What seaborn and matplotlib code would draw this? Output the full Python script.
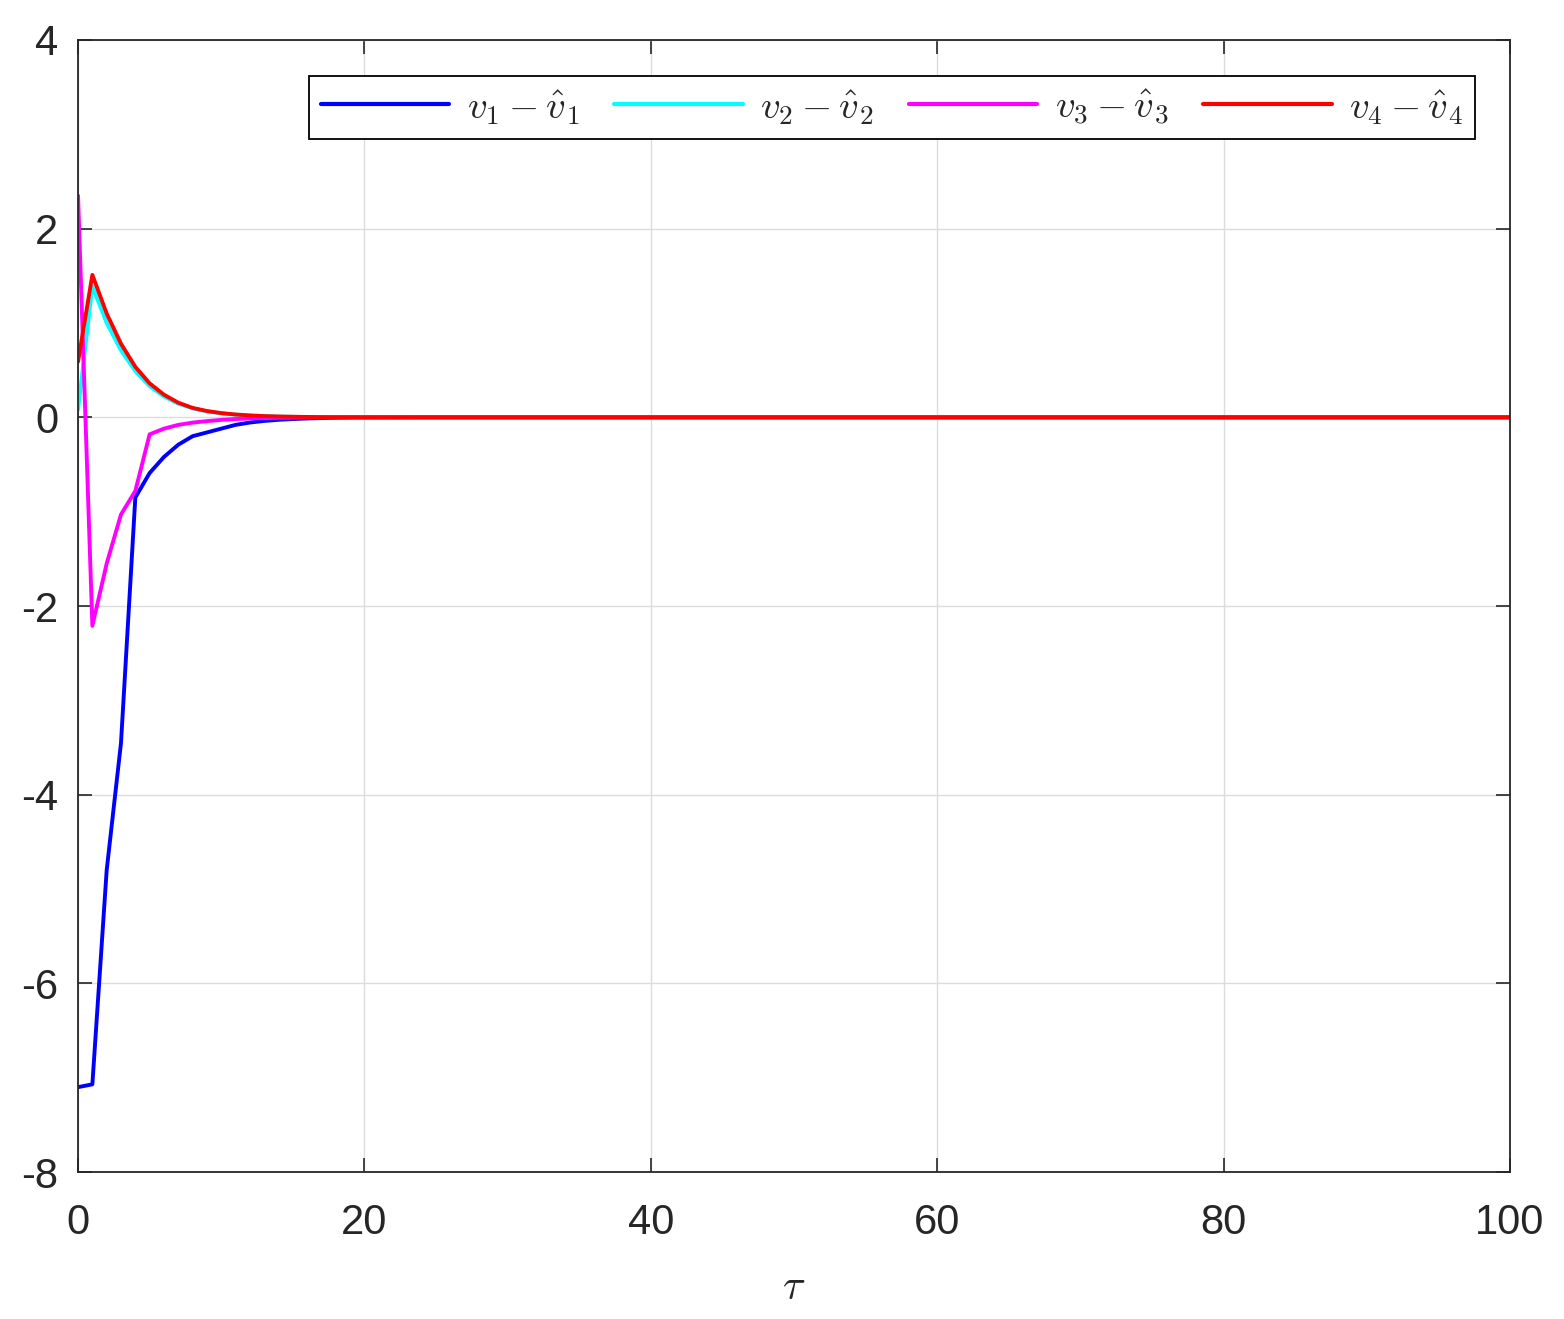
import numpy as np
import pandas as pd
import matplotlib
matplotlib.use('Agg')
import matplotlib.pyplot as plt
import seaborn as sns

# tau samples (step 1 in the transient, flat zero afterwards)
tau = [0, 1, 2, 3, 4, 5, 6, 7, 8, 9, 10, 11, 12, 13, 14, 15, 16, 17, 18, 19, 20, 22, 24, 100]

# estimation errors
err_v1 = [-7.10, -7.07, -4.80, -3.45, -0.85, -0.59, -0.42, -0.29, -0.20, -0.16,
          -0.12, -0.08, -0.055, -0.038, -0.026, -0.018, -0.012, -0.008, -0.005, -0.003,
          -0.002, -0.001, 0.0, 0.0]
err_v2 = [0.08, 1.39, 1.00, 0.71, 0.49, 0.33, 0.22, 0.145, 0.095, 0.063,
          0.042, 0.028, 0.018, 0.012, 0.008, 0.005, 0.003, 0.002, 0.001, 0.001,
          0.0, 0.0, 0.0, 0.0]
err_v3 = [2.35, -2.21, -1.55, -1.03, -0.78, -0.18, -0.12, -0.08, -0.056, -0.04,
          -0.027, -0.018, -0.012, -0.008, -0.005, -0.003, -0.002, -0.001, -0.001, 0.0,
          0.0, 0.0, 0.0, 0.0]
err_v4 = [0.59, 1.51, 1.10, 0.78, 0.535, 0.36, 0.24, 0.155, 0.10, 0.067,
          0.045, 0.03, 0.02, 0.013, 0.009, 0.006, 0.004, 0.002, 0.001, 0.001,
          0.0, 0.0, 0.0, 0.0]

labels = [r'$v_1-\hat{v}_1$', r'$v_2-\hat{v}_2$', r'$v_3-\hat{v}_3$', r'$v_4-\hat{v}_4$']
colors = ['#0000ff', '#00ffff', '#ff00ff', '#ff0000']

df = pd.DataFrame({
    'tau': tau * 4,
    'err': err_v1 + err_v2 + err_v3 + err_v4,
    'serie': sum([[l] * len(tau) for l in labels], []),
})

sns.set_style('ticks')
plt.rcParams['font.family'] = ['Liberation Sans', 'DejaVu Sans']
plt.rcParams['mathtext.fontset'] = 'cm'
plt.rcParams['axes.unicode_minus'] = False

fig = plt.figure(figsize=(15.64, 13.19), dpi=100)
ax = fig.add_axes([0.0499, 0.1114, 0.9156, 0.8583])

sns.lineplot(data=df, x='tau', y='err', hue='serie', palette=colors,
             hue_order=labels, linewidth=2.8, ax=ax, legend=True)

ax.set_xlim(0, 100)
ax.set_ylim(-8, 4)
ax.set_xticks([0, 20, 40, 60, 80, 100])
ax.set_yticks([-8, -6, -4, -2, 0, 2, 4])
ax.grid(True, color='#dcdcdc', linewidth=1.0)
ax.set_axisbelow(True)
ax.tick_params(direction='in', length=10, width=1.2, top=True, right=True,
               labelsize=30, labelcolor='#262626', color='#262626')
ax.tick_params(axis='x', pad=22)
ax.tick_params(axis='y', pad=14)
for s in ax.spines.values():
    s.set_linewidth(1.3)
    s.set_color('#262626')

ax.set_xlabel(r'$\tau$', fontsize=30, labelpad=18)
ax.set_ylabel('')

leg = ax.legend(ncol=4, loc='upper right', bbox_to_anchor=(0.9755, 0.9685),
                fontsize=28, frameon=True, fancybox=False, edgecolor='black',
                handlelength=3.3, handletextpad=0.45, columnspacing=0.9,
                borderpad=0.3, borderaxespad=0, framealpha=1)
leg.get_frame().set_linewidth(1.3)
for h in leg.get_lines():
    h.set_linewidth(3.0)

fig.savefig('out.png', dpi=100)
